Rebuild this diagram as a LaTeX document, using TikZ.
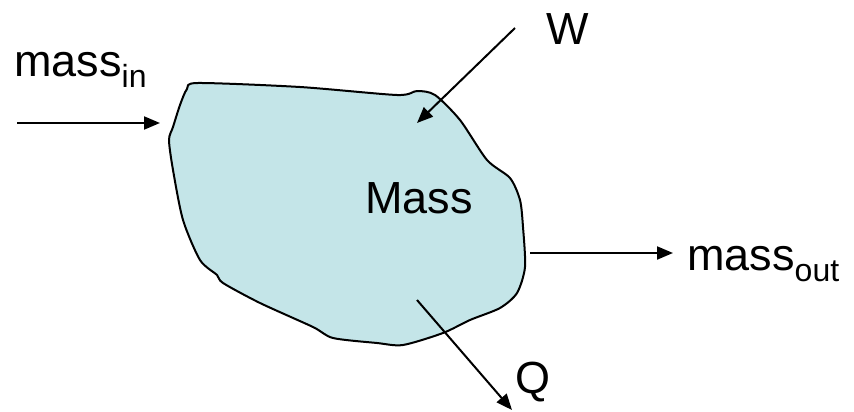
\documentclass[tikz,border=0pt]{standalone}
\usepackage{fontspec}
\setmainfont{Liberation Sans}
\usetikzlibrary{arrows.meta}
\definecolor{cmass}{HTML}{C4E5E8}
\newcommand{\lowsub}[1]{\raisebox{-11pt}{\fontsize{32}{32}\selectfont #1}}

\begin{document}
\begin{tikzpicture}[
  x=1pt, y=-1pt,
  >={Triangle[length=16pt, width=13pt]},
  lbl/.style={inner sep=0pt, anchor=base west, font=\fontsize{45}{54}\selectfont},
  arr/.style={->, line width=2pt},
  blob/.style={draw, line width=2pt, fill=cmass, line join=round},
  ]
\useasboundingbox (0,0) rectangle (854,412);
% control volume
\draw[blob] plot[smooth cycle, tension=0.45] coordinates {
  (198,83) (300,87) (397,95) (417,91) (435,95) (460,120) (487,160)
  (510,178) (520,200) (523,227) (525,267) (517,293) (500,308) (470,320)
  (443,333) (403,345) (377,343) (333,338) (313,327) (260,303) (223,283)
  (217,275) (200,260) (183,220) (173,170) (169,140) (173,127) (180,105)
  (187,89)};

\node[lbl] (mass) at (365,213) {Mass};
\node[lbl] (min) at (14,77) {mass\lowsub{in}};
\node[lbl] (mout) at (687,270) {mass\lowsub{out}};
\node[lbl] (w) at (546,45) {W};
\node[lbl] (q) at (515,393) {Q};

\coordinate (inA) at (17,123);
\coordinate (inB) at (160,123);
\coordinate (outA) at (530,253);
\coordinate (outB) at (673,253);
\coordinate (wA) at (515,28);
\coordinate (wB) at (417,123);
\coordinate (qA) at (417,300);
\coordinate (qB) at (512,410);

\draw[arr] (inA) -- (inB);
\draw[arr] (outA) -- (outB);
\draw[arr] (wA) -- (wB);
\draw[arr] (qA) -- (qB);
\end{tikzpicture}
\end{document}
